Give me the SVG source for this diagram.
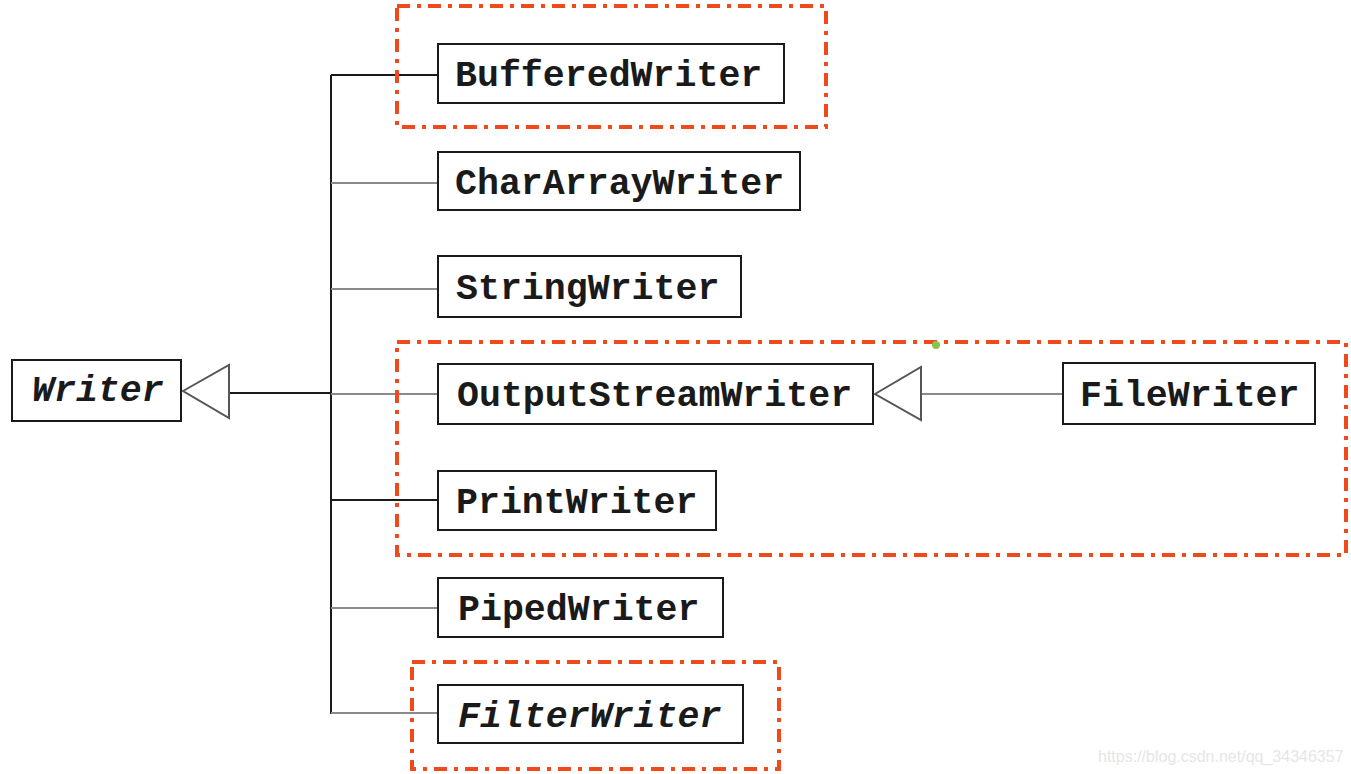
<svg xmlns="http://www.w3.org/2000/svg" width="1351" height="774" viewBox="0 0 1351 774">
<style>
.box{fill:#fff;stroke:#1a1a1a;stroke-width:2}
.t{font-family:"Liberation Mono","Courier New",monospace;font-weight:bold;font-size:36.6px;fill:#1a1a1a}
.it{font-style:italic}
.blk{stroke:#1a1a1a;stroke-width:2;fill:none}
.gry{stroke:#8a8a8a;stroke-width:2;fill:none}
.tri{fill:#fff;stroke:#555;stroke-width:2}
.grp{fill:none;stroke:#ee4a1c;stroke-width:4;stroke-dasharray:13 7 4 7}
.wm{font-family:"Liberation Sans",Arial,sans-serif;font-size:16px;fill:#e6e6e6}
</style>
<rect width="1351" height="774" fill="#fff"/>
<g id="connectors">
<line class="blk" x1="331" y1="75" x2="331" y2="714"/>
<line class="blk" x1="331" y1="75" x2="438" y2="75"/>
<line class="gry" x1="331" y1="183" x2="438" y2="183"/>
<line class="gry" x1="331" y1="289" x2="438" y2="289"/>
<line class="gry" x1="331" y1="394" x2="438" y2="394"/>
<line class="blk" x1="331" y1="500" x2="438" y2="500"/>
<line class="gry" x1="331" y1="608" x2="438" y2="608"/>
<line class="gry" x1="331" y1="713" x2="438" y2="713"/>
<line class="blk" x1="229" y1="393" x2="331" y2="393"/>
<polygon class="tri" points="183,391 229,365 229,418"/>
<line class="gry" x1="921" y1="394" x2="1063" y2="394"/>
<polygon class="tri" points="875,394 921,367 921,420"/>
</g>
<g id="groups">
<rect class="grp" x="397" y="6" width="429" height="121"/>
<rect class="grp" x="397" y="342" width="949" height="213"/>
<rect class="grp" x="412" y="662" width="367" height="107"/>
</g>
<g id="Writer"><rect class="box" x="12" y="360" width="169" height="61"/><text class="t it" x="32" y="401">Writer</text></g>
<g id="BufferedWriter"><rect class="box" x="438" y="44" width="346" height="59"/><text class="t" x="455" y="86">BufferedWriter</text></g>
<g id="CharArrayWriter"><rect class="box" x="438" y="152" width="362" height="58"/><text class="t" x="455" y="194">CharArrayWriter</text></g>
<g id="StringWriter"><rect class="box" x="438" y="256" width="303" height="61"/><text class="t" x="456" y="299">StringWriter</text></g>
<g id="OutputStreamWriter"><rect class="box" x="438" y="364" width="435" height="60"/><text class="t" x="457" y="406">OutputStreamWriter</text></g>
<g id="FileWriter"><rect class="box" x="1063" y="363" width="252" height="61"/><text class="t" x="1080" y="406">FileWriter</text></g>
<g id="PrintWriter"><rect class="box" x="438" y="471" width="278" height="59"/><text class="t" x="456" y="513">PrintWriter</text></g>
<g id="PipedWriter"><rect class="box" x="438" y="578" width="285" height="59"/><text class="t" x="458" y="620">PipedWriter</text></g>
<g id="FilterWriter"><rect class="box" x="438" y="685" width="305" height="58"/><text class="t it" x="458" y="727">FilterWriter</text></g>
<circle cx="936" cy="345" r="4" fill="#8bc34a"/>
<text class="wm" x="1098" y="762">https://blog.csdn.net/qq_34346357</text>
</svg>
